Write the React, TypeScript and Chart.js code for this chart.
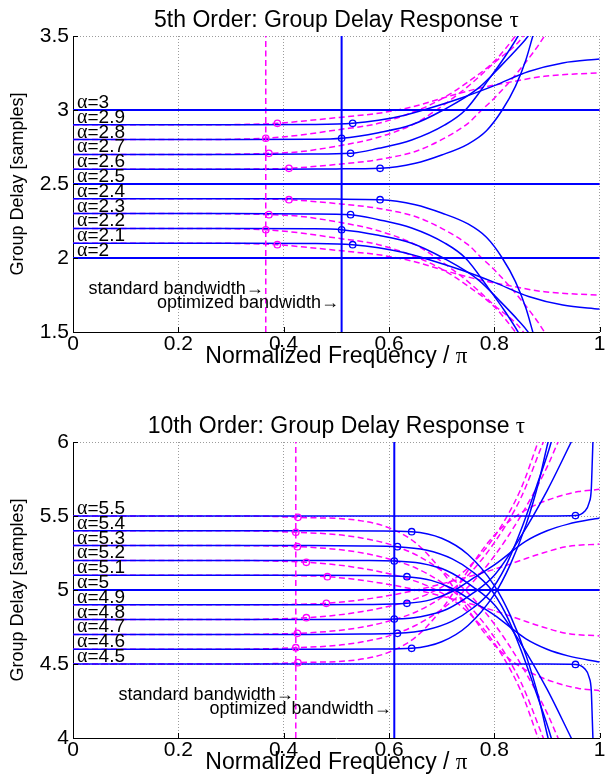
import React, { useEffect, useRef } from "react";
import { Chart, registerables } from "chart.js";

Chart.register(...registerables);

type P = [number, number];

// ---------- tick labels ----------
const xTickLabels = ["0", "0.2", "0.4", "0.6", "0.8", "1"];
const topYTickLabels = ["1.5", "2", "2.5", "3", "3.5"];
const botYTickLabels = ["4", "4.5", "5", "5.5", "6"];

// ---------- 5th order (top) ----------
const t5Alphas = [3, 2.9, 2.8, 2.7, 2.6, 2.5, 2.4, 2.3, 2.2, 2.1, 2];
const t5AlphaText = ["3", "2.9", "2.8", "2.7", "2.6", "2.5", "2.4", "2.3", "2.2", "2.1", "2"];

const t5Flat3: P[] = [[0, 3], [1, 3]];
const t5Flat25: P[] = [[0, 2.5], [1, 2.5]];
const t5Flat2: P[] = [[0, 2], [1, 2]];

const t5Blue29: P[] = [[0, 2.9], [0.3, 2.9], [0.45, 2.902], [0.531, 2.91], [0.58, 2.93], [0.63, 2.965], [0.675, 3.01], [0.74, 3.085], [0.8, 3.165], [0.865, 3.26], [0.93, 3.318], [1, 3.345]];
const t5Blue28: P[] = [[0, 2.8], [0.3, 2.8], [0.45, 2.802], [0.51, 2.809], [0.58, 2.847], [0.643, 2.9], [0.703, 3.0], [0.769, 3.146], [0.813, 3.3], [0.845, 3.42], [0.864, 3.5], [0.88, 3.6]];
const t5Blue27: P[] = [[0, 2.7], [0.3, 2.7], [0.45, 2.702], [0.527, 2.707], [0.58, 2.741], [0.643, 2.797], [0.706, 2.899], [0.745, 3.0], [0.788, 3.2], [0.82, 3.36], [0.845, 3.5], [0.86, 3.6]];
const t5Blue26: P[] = [[0, 2.6], [0.4, 2.6], [0.5, 2.602], [0.583, 2.606], [0.65, 2.64], [0.7, 2.696], [0.75, 2.77], [0.785, 2.86], [0.815, 3.0], [0.84, 3.16], [0.86, 3.34], [0.873, 3.5], [0.885, 3.65]];
const t5Blue24: P[] = [[0, 2.4], [0.4, 2.4], [0.5, 2.398], [0.583, 2.394], [0.65, 2.36], [0.7, 2.304], [0.75, 2.23], [0.785, 2.14], [0.815, 2.0], [0.84, 1.84], [0.86, 1.66], [0.873, 1.5], [0.885, 1.35]];
const t5Blue23: P[] = [[0, 2.3], [0.3, 2.3], [0.45, 2.298], [0.527, 2.293], [0.58, 2.259], [0.643, 2.203], [0.706, 2.101], [0.745, 2.0], [0.788, 1.8], [0.82, 1.64], [0.845, 1.5], [0.86, 1.4]];
const t5Blue22: P[] = [[0, 2.2], [0.3, 2.2], [0.45, 2.198], [0.51, 2.191], [0.58, 2.153], [0.643, 2.1], [0.703, 2.0], [0.769, 1.854], [0.813, 1.7], [0.845, 1.58], [0.864, 1.5], [0.88, 1.4]];
const t5Blue21: P[] = [[0, 2.1], [0.3, 2.1], [0.45, 2.098], [0.531, 2.09], [0.58, 2.07], [0.63, 2.035], [0.675, 1.99], [0.74, 1.915], [0.8, 1.835], [0.865, 1.74], [0.93, 1.682], [1, 1.655]];

const t5Mag29: P[] = [[0, 2.9], [0.25, 2.9], [0.33, 2.903], [0.388, 2.91], [0.45, 2.93], [0.52, 2.955], [0.58, 2.978], [0.643, 3.02], [0.706, 3.085], [0.769, 3.145], [0.832, 3.19], [0.895, 3.228], [1, 3.252]];
const t5Mag28: P[] = [[0, 2.8], [0.25, 2.8], [0.31, 2.803], [0.366, 2.809], [0.43, 2.83], [0.5, 2.865], [0.58, 2.91], [0.656, 3.0], [0.7, 3.075], [0.75, 3.19], [0.8, 3.33], [0.84, 3.5], [0.86, 3.6]];
const t5Mag27: P[] = [[0, 2.7], [0.25, 2.7], [0.31, 2.702], [0.372, 2.707], [0.43, 2.718], [0.5, 2.755], [0.58, 2.816], [0.65, 2.91], [0.69, 3.0], [0.75, 3.16], [0.8, 3.32], [0.855, 3.5], [0.87, 3.6]];
const t5Mag26: P[] = [[0, 2.6], [0.3, 2.6], [0.36, 2.602], [0.41, 2.606], [0.5, 2.632], [0.58, 2.665], [0.65, 2.72], [0.7, 2.8], [0.75, 2.91], [0.776, 3.0], [0.8, 3.08], [0.85, 3.28], [0.895, 3.5], [0.91, 3.6]];
const t5Mag24: P[] = [[0, 2.4], [0.3, 2.4], [0.36, 2.398], [0.41, 2.394], [0.5, 2.368], [0.58, 2.335], [0.65, 2.28], [0.7, 2.2], [0.75, 2.09], [0.776, 2.0], [0.8, 1.92], [0.85, 1.72], [0.895, 1.5], [0.91, 1.4]];
const t5Mag23: P[] = [[0, 2.3], [0.25, 2.3], [0.31, 2.298], [0.372, 2.293], [0.43, 2.282], [0.5, 2.245], [0.58, 2.184], [0.65, 2.09], [0.69, 2.0], [0.75, 1.84], [0.8, 1.68], [0.855, 1.5], [0.87, 1.4]];
const t5Mag22: P[] = [[0, 2.2], [0.25, 2.2], [0.31, 2.197], [0.366, 2.191], [0.43, 2.17], [0.5, 2.135], [0.58, 2.09], [0.656, 2.0], [0.7, 1.925], [0.75, 1.81], [0.8, 1.67], [0.84, 1.5], [0.86, 1.4]];
const t5Mag21: P[] = [[0, 2.1], [0.25, 2.1], [0.33, 2.097], [0.388, 2.09], [0.45, 2.07], [0.52, 2.045], [0.58, 2.022], [0.643, 1.98], [0.706, 1.915], [0.769, 1.855], [0.832, 1.81], [0.895, 1.772], [1, 1.748]];

const t5BlueMarks: P[] = [[0.531, 2.91], [0.51, 2.809], [0.527, 2.707], [0.583, 2.606], [0.583, 2.394], [0.527, 2.293], [0.51, 2.191], [0.531, 2.09]];
const t5MagMarks: P[] = [[0.388, 2.91], [0.366, 2.809], [0.372, 2.707], [0.41, 2.606], [0.41, 2.394], [0.372, 2.293], [0.366, 2.191], [0.388, 2.09]];

const t5StdBand = 0.366;
const t5OptBand = 0.51;

// ---------- 10th order (bottom) ----------
const b10Alphas = [5.5, 5.4, 5.3, 5.2, 5.1, 5, 4.9, 4.8, 4.7, 4.6, 4.5];
const b10AlphaText = ["5.5", "5.4", "5.3", "5.2", "5.1", "5", "4.9", "4.8", "4.7", "4.6", "4.5"];

const b10Flat5: P[] = [[0, 5], [1, 5]];

const b10Blue55: P[] = [[0, 5.5], [0.5, 5.5], [0.9, 5.5], [0.954, 5.503], [0.971, 5.53], [0.98, 5.59], [0.984, 5.68], [0.986, 5.88], [0.988, 6.1]];
const b10Blue54: P[] = [[0, 5.4], [0.5, 5.4], [0.58, 5.399], [0.643, 5.394], [0.7, 5.35], [0.75, 5.24], [0.8, 5.03], [0.83, 4.83], [0.86, 4.56], [0.885, 4.26], [0.902, 4.0], [0.91, 3.9]];
const b10Blue53: P[] = [[0, 5.3], [0.45, 5.3], [0.55, 5.298], [0.616, 5.293], [0.67, 5.27], [0.72, 5.21], [0.76, 5.12], [0.79, 5.02], [0.82, 4.85], [0.85, 4.6], [0.88, 4.3], [0.908, 4.0], [0.915, 3.9]];
const b10Blue52: P[] = [[0, 5.2], [0.45, 5.2], [0.55, 5.199], [0.61, 5.196], [0.66, 5.18], [0.71, 5.13], [0.76, 5.02], [0.8, 4.9], [0.85, 4.64], [0.9, 4.33], [0.946, 4.0], [0.96, 3.9]];
const b10Blue51: P[] = [[0, 5.1], [0.45, 5.1], [0.55, 5.098], [0.634, 5.09], [0.68, 5.065], [0.72, 5.01], [0.76, 4.92], [0.8, 4.83], [0.86, 4.67], [0.9, 4.6], [0.94, 4.555], [1, 4.513]];
const b10Blue49: P[] = [[0, 4.9], [0.45, 4.9], [0.55, 4.902], [0.634, 4.91], [0.68, 4.935], [0.72, 4.99], [0.76, 5.08], [0.8, 5.17], [0.86, 5.33], [0.9, 5.4], [0.94, 5.445], [1, 5.487]];
const b10Blue48: P[] = [[0, 4.8], [0.45, 4.8], [0.55, 4.801], [0.61, 4.804], [0.66, 4.82], [0.71, 4.87], [0.76, 4.98], [0.8, 5.1], [0.85, 5.36], [0.9, 5.67], [0.946, 6.0], [0.96, 6.1]];
const b10Blue47: P[] = [[0, 4.7], [0.45, 4.7], [0.55, 4.702], [0.616, 4.707], [0.67, 4.73], [0.72, 4.79], [0.76, 4.88], [0.79, 4.98], [0.82, 5.15], [0.85, 5.4], [0.88, 5.7], [0.908, 6.0], [0.915, 6.1]];
const b10Blue46: P[] = [[0, 4.6], [0.5, 4.6], [0.58, 4.601], [0.643, 4.606], [0.7, 4.65], [0.75, 4.76], [0.8, 4.97], [0.83, 5.17], [0.86, 5.44], [0.885, 5.74], [0.902, 6.0], [0.91, 6.1]];
const b10Blue45: P[] = [[0, 4.5], [0.5, 4.5], [0.9, 4.5], [0.954, 4.497], [0.971, 4.47], [0.98, 4.41], [0.984, 4.32], [0.986, 4.12], [0.988, 3.9]];

const b10Mag55: P[] = [[0, 5.5], [0.3, 5.5], [0.38, 5.497], [0.427, 5.491], [0.543, 5.47], [0.6, 5.42], [0.65, 5.32], [0.7, 5.13], [0.744, 4.9], [0.79, 4.67], [0.83, 4.53], [0.87, 4.44], [0.92, 4.37], [0.96, 4.335], [1, 4.32]];
const b10Mag54: P[] = [[0, 5.4], [0.3, 5.4], [0.37, 5.397], [0.423, 5.39], [0.5, 5.375], [0.55, 5.35], [0.6, 5.31], [0.65, 5.24], [0.7, 5.13], [0.75, 4.98], [0.8, 4.77], [0.85, 4.5], [0.9, 4.17], [0.921, 4.0], [0.935, 3.9]];
const b10Mag53: P[] = [[0, 5.3], [0.3, 5.3], [0.37, 5.298], [0.426, 5.293], [0.5, 5.275], [0.55, 5.25], [0.6, 5.21], [0.65, 5.15], [0.7, 5.05], [0.75, 4.9], [0.8, 4.68], [0.85, 4.38], [0.893, 4.0], [0.91, 3.85]];
const b10Mag52: P[] = [[0, 5.2], [0.3, 5.2], [0.39, 5.195], [0.443, 5.187], [0.5, 5.17], [0.55, 5.145], [0.6, 5.11], [0.65, 5.06], [0.7, 4.98], [0.75, 4.85], [0.8, 4.64], [0.85, 4.32], [0.883, 4.0], [0.9, 3.83]];
const b10Mag51: P[] = [[0, 5.1], [0.35, 5.1], [0.42, 5.097], [0.483, 5.09], [0.56, 5.06], [0.64, 5.01], [0.72, 4.94], [0.8, 4.86], [0.85, 4.8], [0.883, 4.76], [0.94, 4.705], [1, 4.69]];
const b10Mag49: P[] = [[0, 4.9], [0.35, 4.9], [0.42, 4.903], [0.481, 4.91], [0.56, 4.94], [0.64, 4.99], [0.72, 5.06], [0.8, 5.14], [0.85, 5.2], [0.883, 5.24], [0.94, 5.295], [1, 5.31]];
const b10Mag48: P[] = [[0, 4.8], [0.3, 4.8], [0.39, 4.805], [0.443, 4.813], [0.5, 4.83], [0.55, 4.855], [0.6, 4.89], [0.65, 4.94], [0.7, 5.02], [0.75, 5.15], [0.8, 5.36], [0.85, 5.68], [0.883, 6.0], [0.9, 6.17]];
const b10Mag47: P[] = [[0, 4.7], [0.3, 4.7], [0.37, 4.702], [0.426, 4.707], [0.5, 4.725], [0.55, 4.75], [0.6, 4.79], [0.65, 4.85], [0.7, 4.95], [0.75, 5.1], [0.8, 5.32], [0.85, 5.62], [0.893, 6.0], [0.91, 6.15]];
const b10Mag46: P[] = [[0, 4.6], [0.3, 4.6], [0.37, 4.603], [0.423, 4.61], [0.5, 4.625], [0.55, 4.65], [0.6, 4.69], [0.65, 4.76], [0.7, 4.87], [0.75, 5.02], [0.8, 5.23], [0.85, 5.5], [0.9, 5.83], [0.921, 6.0], [0.935, 6.1]];
const b10Mag45: P[] = [[0, 4.5], [0.3, 4.5], [0.38, 4.503], [0.427, 4.509], [0.543, 4.53], [0.6, 4.58], [0.65, 4.68], [0.7, 4.87], [0.744, 5.1], [0.79, 5.33], [0.83, 5.47], [0.87, 5.56], [0.92, 5.63], [0.96, 5.665], [1, 5.68]];

const b10BlueMarks: P[] = [[0.954, 5.503], [0.643, 5.394], [0.616, 5.293], [0.61, 5.196], [0.634, 5.09], [0.634, 4.91], [0.61, 4.804], [0.616, 4.707], [0.643, 4.606], [0.954, 4.497]];
const b10MagMarks: P[] = [[0.427, 5.491], [0.423, 5.39], [0.426, 5.293], [0.443, 5.187], [0.483, 5.09], [0.481, 4.91], [0.443, 4.813], [0.426, 4.707], [0.423, 4.61], [0.427, 4.509]];

const b10StdBand = 0.423;
const b10OptBand = 0.61;

// ---------- styling ----------
const SANS = "'Liberation Sans', Arial, Helvetica, 'DejaVu Sans', sans-serif";
const SERIF = "'Liberation Serif', 'DejaVu Serif', Times, serif";
const BLUE = "#0000ff";
const MAGENTA = "#ff00ff";
const GRID = "#9c9c9c";

type Run = { text: string; font: string };

function drawRuns(ctx: CanvasRenderingContext2D, runs: Run[], x: number, y: number, align: "left" | "center" | "right") {
  let total = 0;
  const widths = runs.map((r) => {
    ctx.font = r.font;
    const w = ctx.measureText(r.text).width;
    total += w;
    return w;
  });
  let cx = align === "center" ? x - total / 2 : align === "right" ? x - total : x;
  ctx.textAlign = "left";
  runs.forEach((r, i) => {
    ctx.font = r.font;
    ctx.fillText(r.text, cx, y);
    cx += widths[i];
  });
}

type Spec = {
  title: string;
  yMin: number;
  yMax: number;
  yTickLabels: string[];
  alphas: number[];
  alphaText: string[];
  blue: P[][];
  mag: P[][];
  flat: P[][];
  blueMarks: P[];
  magMarks: P[];
  stdBand: number;
  optBand: number;
  stdNote: P;
  optNote: P;
  height: number;
  xAxisH: number;
};

const topSpec: Spec = {
  title: "5th Order: Group Delay Response ",
  yMin: 1.5,
  yMax: 3.5,
  yTickLabels: topYTickLabels,
  alphas: t5Alphas,
  alphaText: t5AlphaText,
  blue: [t5Blue29, t5Blue28, t5Blue27, t5Blue26, t5Blue24, t5Blue23, t5Blue22, t5Blue21],
  mag: [t5Mag29, t5Mag28, t5Mag27, t5Mag26, t5Mag24, t5Mag23, t5Mag22, t5Mag21],
  flat: [t5Flat3, t5Flat25, t5Flat2],
  blueMarks: t5BlueMarks,
  magMarks: t5MagMarks,
  stdBand: t5StdBand,
  optBand: t5OptBand,
  stdNote: [0.362, 1.789],
  optNote: [0.505, 1.694],
  height: 406,
  xAxisH: 74,
};

const botSpec: Spec = {
  title: "10th Order: Group Delay Response ",
  yMin: 4,
  yMax: 6,
  yTickLabels: botYTickLabels,
  alphas: b10Alphas,
  alphaText: b10AlphaText,
  blue: [b10Blue55, b10Blue54, b10Blue53, b10Blue52, b10Blue51, b10Blue49, b10Blue48, b10Blue47, b10Blue46, b10Blue45],
  mag: [b10Mag55, b10Mag54, b10Mag53, b10Mag52, b10Mag51, b10Mag49, b10Mag48, b10Mag47, b10Mag46, b10Mag45],
  flat: [b10Flat5],
  blueMarks: b10BlueMarks,
  magMarks: b10MagMarks,
  stdBand: b10StdBand,
  optBand: b10OptBand,
  stdNote: [0.419, 4.29],
  optNote: [0.605, 4.195],
  height: 372,
  xAxisH: 40,
};

const toXY = (d: P[]) => d.map(([x, y]) => ({ x, y }));

function buildConfig(s: Spec): any {
  const datasets: any[] = [];
  datasets.push({
    data: toXY(s.blueMarks), showLine: false, pointRadius: 3.2, pointStyle: "circle",
    pointBackgroundColor: "rgba(0,0,0,0)", pointBorderColor: BLUE, pointBorderWidth: 1.3, order: 0,
  });
  datasets.push({
    data: toXY(s.magMarks), showLine: false, pointRadius: 3.2, pointStyle: "circle",
    pointBackgroundColor: "rgba(0,0,0,0)", pointBorderColor: MAGENTA, pointBorderWidth: 1.3, order: 0,
  });
  const curve = (d: P[], color: string, dashed: boolean, width: number, order: number) => ({
    data: toXY(d), borderColor: color, borderWidth: width, borderDash: dashed ? [6, 3.5] : [],
    pointRadius: 0, pointHoverRadius: 0, fill: false, cubicInterpolationMode: "monotone", order,
  });
  s.flat.forEach((d) => datasets.push(curve(d, BLUE, false, 2, 1)));
  s.blue.forEach((d) => datasets.push(curve(d, BLUE, false, 1.5, 2)));
  s.flat.forEach((d) => datasets.push(curve(d, MAGENTA, true, 1.5, 3)));
  s.mag.forEach((d) => datasets.push(curve(d, MAGENTA, true, 1.5, 3)));
  datasets.push({
    data: toXY([[s.optBand, s.yMin], [s.optBand, s.yMax]]), borderColor: BLUE, borderWidth: 2,
    pointRadius: 0, tension: 0, order: 1,
  });
  datasets.push({
    data: toXY([[s.stdBand, s.yMin], [s.stdBand, s.yMax]]), borderColor: MAGENTA, borderWidth: 1.5,
    borderDash: [6, 3.5], pointRadius: 0, tension: 0, order: 1,
  });

  const textPlugin = {
    id: "gdText",
    afterDraw(chart: any) {
      const { ctx, chartArea: a, scales } = chart;
      const x = scales.x;
      const y = scales.y;
      ctx.save();
      ctx.strokeStyle = "#000";
      ctx.lineWidth = 1;
      x.ticks.forEach((t: any) => {
        const px = Math.round(x.getPixelForValue(t.value)) + 0.5;
        ctx.beginPath();
        ctx.moveTo(px, a.bottom);
        ctx.lineTo(px, a.bottom - 5);
        ctx.stroke();
      });
      y.ticks.forEach((t: any) => {
        const py = Math.round(y.getPixelForValue(t.value)) + 0.5;
        ctx.beginPath();
        ctx.moveTo(a.left, py);
        ctx.lineTo(a.left + 5, py);
        ctx.stroke();
      });
      ctx.fillStyle = "#000";
      ctx.textBaseline = "alphabetic";
      s.alphas.forEach((al, i) => {
        const py = y.getPixelForValue(al) - 2;
        drawRuns(ctx, [
          { text: "\u03b1", font: `20px ${SERIF}` },
          { text: "=" + s.alphaText[i], font: `19px ${SANS}` },
        ], a.left + 4, py, "left");
      });
      ctx.textBaseline = "middle";
      drawRuns(ctx, [
        { text: "standard bandwidth", font: `18px ${SANS}` },
        { text: "\u2192", font: `18px ${SANS}` },
      ], x.getPixelForValue(s.stdNote[0]), y.getPixelForValue(s.stdNote[1]), "right");
      drawRuns(ctx, [
        { text: "optimized bandwidth", font: `18px ${SANS}` },
        { text: "\u2192", font: `18px ${SANS}` },
      ], x.getPixelForValue(s.optNote[0]), y.getPixelForValue(s.optNote[1]), "right");
      const cx = (a.left + a.right) / 2;
      drawRuns(ctx, [
        { text: s.title, font: `23px ${SANS}` },
        { text: "\u03c4", font: `23px ${SERIF}` },
      ], cx, a.top - 15, "center");
      drawRuns(ctx, [
        { text: "Normalized Frequency / ", font: `23px ${SANS}` },
        { text: "\u03c0", font: `23px ${SERIF}` },
      ], cx, a.bottom + 25, "center");
      ctx.translate(18, (a.top + a.bottom) / 2);
      ctx.rotate(-Math.PI / 2);
      drawRuns(ctx, [{ text: "Group Delay [samples]", font: `18px ${SANS}` }], 0, 0, "center");
      ctx.restore();
    },
  };

  return {
    type: "line",
    data: { datasets },
    options: {
      responsive: false,
      maintainAspectRatio: false,
      devicePixelRatio: 1,
      animation: false,
      events: [],
      layout: { padding: { top: 36, left: 0, right: 3, bottom: 0 } },
      plugins: { legend: { display: false }, tooltip: { enabled: false }, title: { display: false } },
      scales: {
        x: {
          type: "linear",
          min: 0,
          max: 1,
          ticks: {
            stepSize: 0.2,
            autoSkip: false,
            maxRotation: 0,
            padding: 0,
            color: "#000",
            font: { family: SANS, size: 21 },
            callback: (_v: any, i: number) => xTickLabels[i],
          },
          grid: { color: GRID, lineWidth: 1, drawTicks: false },
          border: { display: true, color: "#000", width: 1, dash: [1, 2] },
          afterFit: (sc: any) => {
            sc.height = s.xAxisH;
            sc.paddingLeft = 0;
            sc.paddingRight = 0;
          },
        },
        y: {
          type: "linear",
          min: s.yMin,
          max: s.yMax,
          ticks: {
            stepSize: 0.5,
            padding: 4,
            color: "#000",
            font: { family: SANS, size: 21 },
            callback: (_v: any, i: number) => s.yTickLabels[i],
          },
          grid: { color: GRID, lineWidth: 1, drawTicks: false },
          border: { display: true, color: "#000", width: 1, dash: [1, 2] },
          afterFit: (sc: any) => {
            sc.width = 73;
            sc.paddingTop = 0;
            sc.paddingBottom = 0;
          },
        },
      },
    },
    plugins: [textPlugin],
  };
}

function GroupDelayChart({ spec }: { spec: Spec }) {
  const ref = useRef<HTMLCanvasElement | null>(null);
  useEffect(() => {
    if (!ref.current) return;
    const chart = new Chart(ref.current, buildConfig(spec));
    return () => chart.destroy();
  }, [spec]);
  return (
    <canvas
      ref={ref}
      width={605}
      height={spec.height}
      style={{ display: "block", width: 605, height: spec.height }}
    />
  );
}

export default function App() {
  return (
    <div style={{ position: "absolute", left: 0, top: 0, width: 605, height: 778, background: "#fff" }}>
      <GroupDelayChart spec={topSpec} />
      <GroupDelayChart spec={botSpec} />
    </div>
  );
}
